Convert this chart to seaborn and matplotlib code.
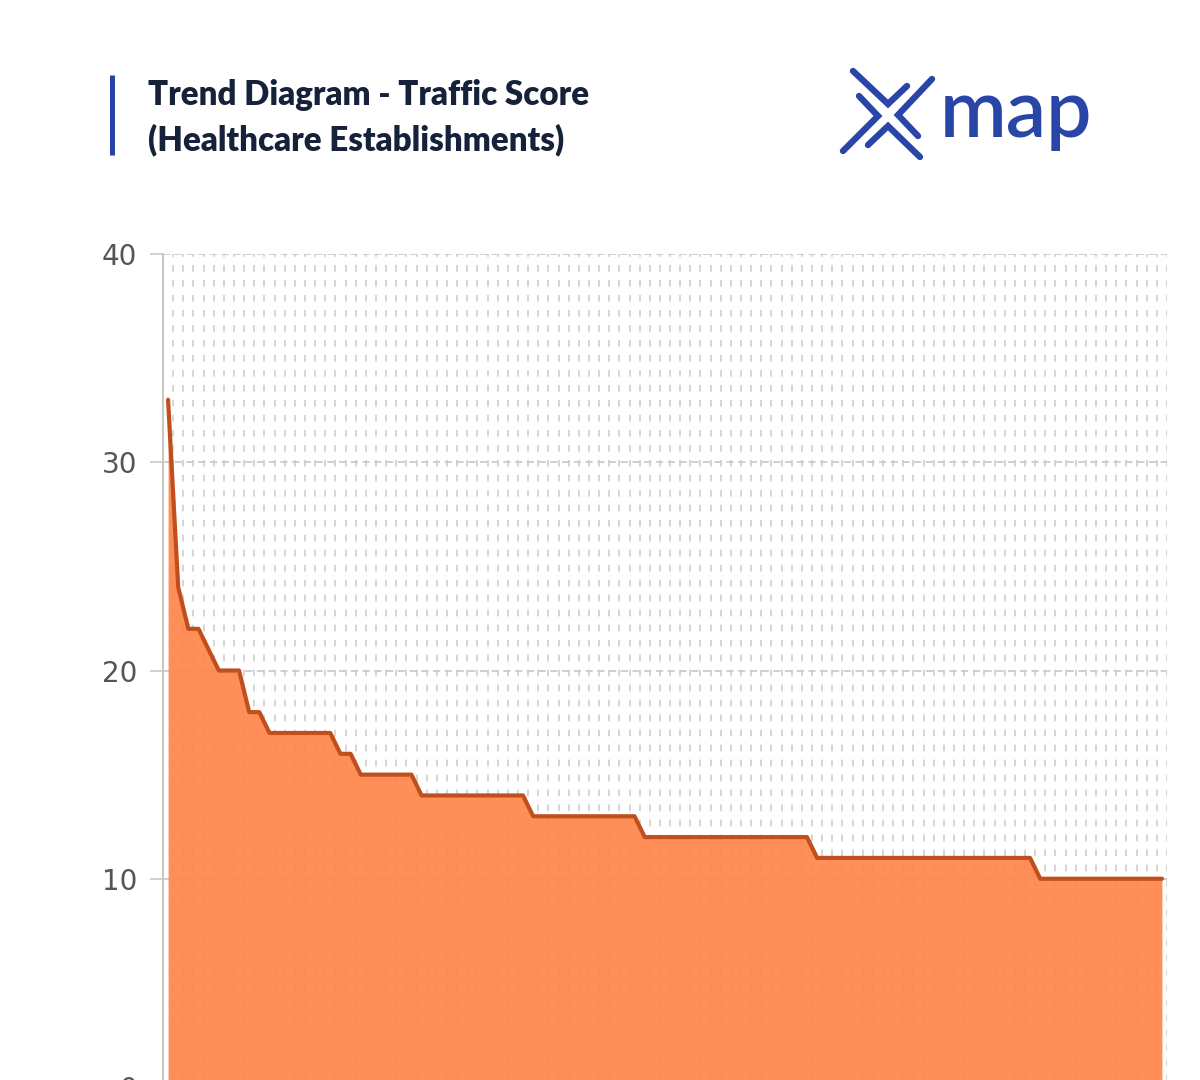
import numpy as np
import pandas as pd
import seaborn as sns
import matplotlib.pyplot as plt

# Traffic score of each healthcare establishment (sorted, high to low)
scores = [33, 24, 22, 22, 21, 20, 20, 20, 18, 18,
          17, 17, 17, 17, 17, 17, 17, 16, 16, 15,
          15, 15, 15, 15, 15, 14, 14, 14, 14, 14,
          14, 14, 14, 14, 14, 14, 13, 13, 13, 13,
          13, 13, 13, 13, 13, 13, 13, 12, 12, 12,
          12, 12, 12, 12, 12, 12, 12, 12, 12, 12,
          12, 12, 12, 12, 11, 11, 11, 11, 11, 11,
          11, 11, 11, 11, 11, 11, 11, 11, 11, 11,
          11, 11, 11, 11, 11, 11, 10, 10, 10, 10,
          10, 10, 10, 10, 10, 10, 10, 10, 10]
y_ticks = [0, 10, 20, 30, 40]
title_lines = ["Trend Diagram - Traffic Score", "(Healthcare Establishments)"]

df = pd.DataFrame({"rank": np.arange(len(scores)), "score": scores})

sns.set_theme(style="white")
plt.rcParams["font.family"] = ["DejaVu Sans"]

fig = plt.figure(figsize=(12, 10.8), dpi=100)
fig.patch.set_facecolor("white")

# main chart (bottom runs slightly past the image edge, like the source)
ax = fig.add_axes([163 / 1200, -7 / 1080, 1004 / 1200, 833 / 1080])
ax.set_xlim(-0.5, len(scores) - 0.5)
ax.set_ylim(0, 40)

# dashed grid: one vertical line per category boundary, horizontal at major ticks
for xv in np.arange(len(scores)) + 0.5:
    ax.axvline(xv, color="#d2d2d2", lw=1.3, ls=(0, (3.7, 4.6)), zorder=0)
for yv in y_ticks[1:]:
    ax.axhline(yv, color="#cccccc", lw=1.3, ls=(0, (4, 2.5)), zorder=0)

ax.fill_between(df["rank"], df["score"], 0, color="#ff884f", alpha=0.95,
                lw=0, zorder=1)
sns.lineplot(data=df, x="rank", y="score", ax=ax, color="#c14f1d", lw=3.0,
             zorder=2, solid_joinstyle="round", solid_capstyle="round")

ax.set_xlabel("")
ax.set_ylabel("")
ax.set_xticks([])
ax.set_yticks(y_ticks)
ax.set_yticklabels([str(v) for v in y_ticks])
ax.tick_params(axis="y", length=9.5, width=1.2, color="#c8c8c8", pad=9,
               labelsize=20, labelcolor="#555555", left=True)
for side in ["top", "right", "bottom"]:
    ax.spines[side].set_visible(False)
ax.spines["left"].set_color("#c8c8c8")
ax.spines["left"].set_linewidth(1.5)

# header overlay in pixel coordinates
hd = fig.add_axes([0, 0, 1, 1], facecolor="none")
hd.set_xlim(0, 1200)
hd.set_ylim(1080, 0)
hd.axis("off")

hd.plot([111.5, 111.5], [75, 155], color="#2442a8", lw=3.6,
        solid_capstyle="butt")
hd.text(148, 105, title_lines[0], fontsize=23.8, fontweight="heavy",
        family="Lato", color="#16213a", va="baseline", ha="left")
hd.text(148, 150, title_lines[1], fontsize=23.8, fontweight="heavy",
        family="Lato", color="#16213a", va="baseline", ha="left")

# xmap logo
logo_blue = "#2a45a8"
strokes = [
    [(853, 71), (888, 104), (907, 86)],
    [(932, 79), (898, 115), (918, 136)],
    [(859, 96), (878, 116), (843, 151)],
    [(868, 145), (888, 126), (920, 157)],
]
for s in strokes:
    xs, ys = zip(*s)
    hd.plot(xs, ys, color=logo_blue, lw=4.6, solid_capstyle="round",
            solid_joinstyle="miter")
hd.text(940, 137, "map", fontsize=58, family="Lato", fontweight="semibold",
        color=logo_blue, va="baseline", ha="left")

fig.savefig("out.png", dpi=100, facecolor="white")
